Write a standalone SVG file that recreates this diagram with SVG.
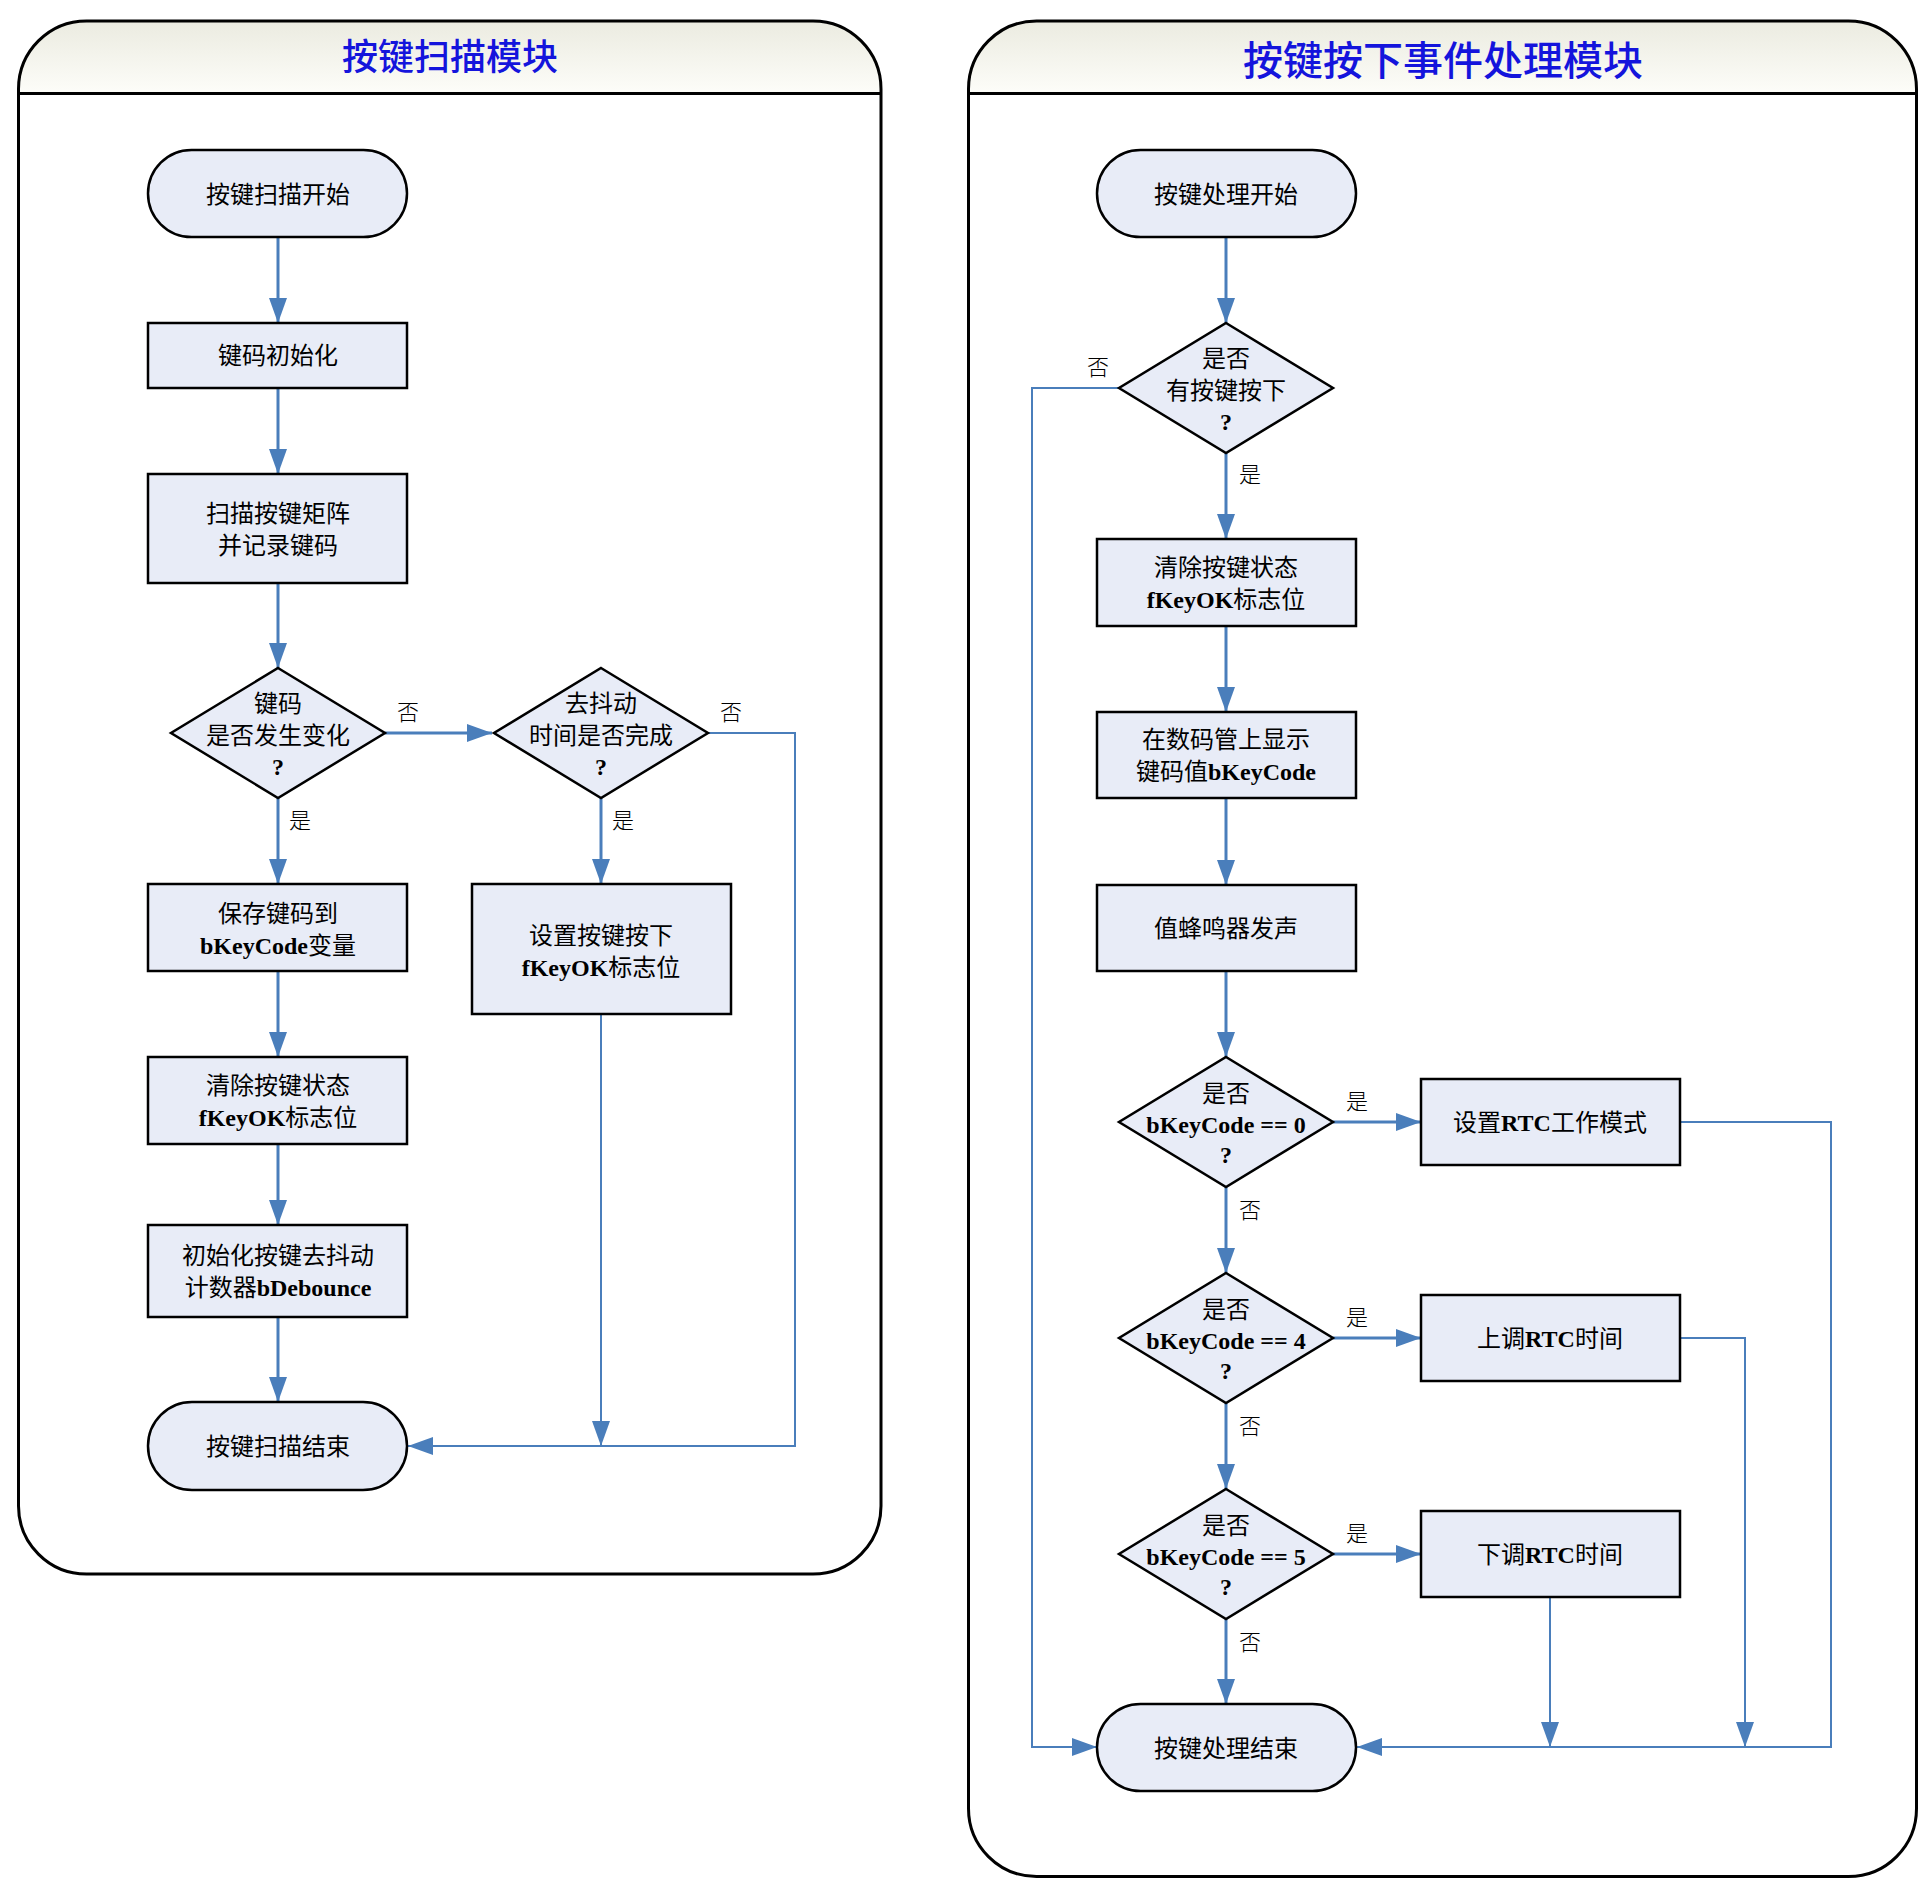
<svg xmlns="http://www.w3.org/2000/svg" width="1932" height="1893" viewBox="0 0 1932 1893">
<style>
.panel{fill:none;stroke:#000;stroke-width:3}
.hdr{fill:url(#hg);stroke:none}
.sep{stroke:#000;stroke-width:3}
.title{font-family:"Noto Sans CJK SC",sans-serif;fill:#1414dc;text-anchor:middle;font-weight:500}
.node{fill:#e8ecf7;stroke:#000;stroke-width:2.5}
.t{font-family:"Noto Sans CJK SC",sans-serif;font-size:24px;fill:#000;text-anchor:middle}
.b{font-family:"Liberation Serif",serif;font-weight:bold}
.lbl{font-family:"Noto Sans CJK SC",sans-serif;font-size:22px;fill:#000;text-anchor:middle;font-weight:300}
.c{fill:none;stroke:#4a7ebb;stroke-width:3}
.c2{fill:none;stroke:#4a7ebb;stroke-width:2}
.ca{marker-end:url(#ar)}
</style>
<defs>
<linearGradient id="hg" x1="0" y1="0" x2="0" y2="1">
<stop offset="0" stop-color="#ebebe0"/>
<stop offset="1" stop-color="#fdfdf9"/>
</linearGradient>
<marker id="ar" viewBox="0 0 25 18" refX="25" refY="9" markerWidth="25" markerHeight="18" markerUnits="userSpaceOnUse" orient="auto">
<path d="M0,0 L25,9 L0,18 Z" fill="#4a7ebb"/>
</marker>
</defs>

<g id="panel-left">
<path class="hdr" d="M18.5,93.5 V89 A68,68 0 0 1 86.5,21 H813 A68,68 0 0 1 881,89 V93.5 Z"/>
<rect class="panel" x="18.5" y="21" width="862.5" height="1553" rx="68" ry="68"/>
<line class="sep" x1="18.5" y1="93.5" x2="881" y2="93.5"/>
<text class="title" x="450" y="70" font-size="36">按键扫描模块</text>
</g>

<g id="panel-right">
<path class="hdr" d="M968.5,93.5 V89 A68,68 0 0 1 1036.5,21 H1848.5 A68,68 0 0 1 1916.5,89 V93.5 Z"/>
<rect class="panel" x="968.5" y="21" width="948" height="1855.5" rx="68" ry="68"/>
<line class="sep" x1="968.5" y1="93.5" x2="1916.5" y2="93.5"/>
<text class="title" x="1443" y="75" font-size="40">按键按下事件处理模块</text>
</g>

<g id="connectors">
<!-- left -->
<path class="c ca" d="M278,237 V323"/>
<path class="c ca" d="M278,388 V474"/>
<path class="c ca" d="M278,583 V668"/>
<path class="c ca" d="M278,798 V884"/>
<path class="c ca" d="M385,733 H492"/>
<path class="c ca" d="M601,798 V884"/>
<path class="c2" d="M708,733 H795 V1446 H420"/>
<path class="c ca" d="M795,1446 H408" style="stroke-width:2"/>
<path class="c2 ca" d="M601,1014 V1446"/>
<path class="c ca" d="M278,971 V1057"/>
<path class="c ca" d="M278,1144 V1225"/>
<path class="c ca" d="M278,1317 V1402"/>
<!-- right -->
<path class="c ca" d="M1226,237 V323"/>
<path class="c2 ca" d="M1119,388 H1032 V1747 H1097"/>
<path class="c ca" d="M1226,453 V539"/>
<path class="c ca" d="M1226,626 V712"/>
<path class="c ca" d="M1226,798 V885"/>
<path class="c ca" d="M1226,971 V1057"/>
<path class="c ca" d="M1333,1122 H1421"/>
<path class="c ca" d="M1226,1187 V1273"/>
<path class="c ca" d="M1333,1338 H1421"/>
<path class="c ca" d="M1226,1403 V1489"/>
<path class="c ca" d="M1333,1554 H1421"/>
<path class="c ca" d="M1226,1619 V1704"/>
<path class="c2 ca" d="M1680,1122 H1831 V1747 H1357"/>
<path class="c2 ca" d="M1680,1338 H1745 V1747"/>
<path class="c2 ca" d="M1550,1597 V1747"/>
<!-- labels -->
<text class="lbl" x="300" y="828">是</text>
<text class="lbl" x="408" y="720">否</text>
<text class="lbl" x="623" y="828">是</text>
<text class="lbl" x="731" y="720">否</text>
<text class="lbl" x="1098" y="375">否</text>
<text class="lbl" x="1250" y="482">是</text>
<text class="lbl" x="1357" y="1109">是</text>
<text class="lbl" x="1250" y="1218">否</text>
<text class="lbl" x="1357" y="1325">是</text>
<text class="lbl" x="1250" y="1434">否</text>
<text class="lbl" x="1357" y="1541">是</text>
<text class="lbl" x="1250" y="1650">否</text>
</g>

<!-- left nodes -->
<g id="n-scan-start">
<rect class="node" x="148" y="150" width="259" height="87" rx="43.5" ry="43.5"/>
<text class="t" x="278" y="203">按键扫描开始</text>
</g>
<g id="n-init">
<rect class="node" x="148" y="323" width="259" height="65"/>
<text class="t" x="278" y="364">键码初始化</text>
</g>
<g id="n-scan-matrix">
<rect class="node" x="148" y="474" width="259" height="109"/>
<text class="t" x="278" y="522">扫描按键矩阵</text>
<text class="t" x="278" y="554">并记录键码</text>
</g>
<g id="n-changed">
<path class="node" d="M278,668 L385,733 L278,798 L171,733 Z"/>
<text class="t" x="278" y="712">键码</text>
<text class="t" x="278" y="744">是否发生变化</text>
<text class="t b" x="278" y="775">?</text>
</g>
<g id="n-debounce">
<path class="node" d="M601,668 L708,733 L601,798 L494,733 Z"/>
<text class="t" x="601" y="712">去抖动</text>
<text class="t" x="601" y="744">时间是否完成</text>
<text class="t b" x="601" y="775">?</text>
</g>
<g id="n-save">
<rect class="node" x="148" y="884" width="259" height="87"/>
<text class="t" x="278" y="922">保存键码到</text>
<text class="t" x="278" y="954"><tspan class="b">bKeyCode</tspan>变量</text>
</g>
<g id="n-set-ok">
<rect class="node" x="472" y="884" width="259" height="130"/>
<text class="t" x="601" y="944">设置按键按下</text>
<text class="t" x="601" y="976"><tspan class="b">fKeyOK</tspan>标志位</text>
</g>
<g id="n-clear-left">
<rect class="node" x="148" y="1057" width="259" height="87"/>
<text class="t" x="278" y="1094">清除按键状态</text>
<text class="t" x="278" y="1126"><tspan class="b">fKeyOK</tspan>标志位</text>
</g>
<g id="n-init-debounce">
<rect class="node" x="148" y="1225" width="259" height="92"/>
<text class="t" x="278" y="1264">初始化按键去抖动</text>
<text class="t" x="278" y="1296">计数器<tspan class="b">bDebounce</tspan></text>
</g>
<g id="n-scan-end">
<rect class="node" x="148" y="1402" width="259" height="88" rx="44" ry="44"/>
<text class="t" x="278" y="1455">按键扫描结束</text>
</g>

<!-- right nodes -->
<g id="n-proc-start">
<rect class="node" x="1097" y="150" width="259" height="87" rx="43.5" ry="43.5"/>
<text class="t" x="1226" y="203">按键处理开始</text>
</g>
<g id="n-pressed">
<path class="node" d="M1226,323 L1333,388 L1226,453 L1119,388 Z"/>
<text class="t" x="1226" y="367">是否</text>
<text class="t" x="1226" y="399">有按键按下</text>
<text class="t b" x="1226" y="430">?</text>
</g>
<g id="n-clear-right">
<rect class="node" x="1097" y="539" width="259" height="87"/>
<text class="t" x="1226" y="576">清除按键状态</text>
<text class="t" x="1226" y="608"><tspan class="b">fKeyOK</tspan>标志位</text>
</g>
<g id="n-display">
<rect class="node" x="1097" y="712" width="259" height="86"/>
<text class="t" x="1226" y="748">在数码管上显示</text>
<text class="t" x="1226" y="780">键码值<tspan class="b">bKeyCode</tspan></text>
</g>
<g id="n-beep">
<rect class="node" x="1097" y="885" width="259" height="86"/>
<text class="t" x="1226" y="937">值蜂鸣器发声</text>
</g>
<g id="n-is0">
<path class="node" d="M1226,1057 L1333,1122 L1226,1187 L1119,1122 Z"/>
<text class="t" x="1226" y="1102">是否</text>
<text class="t b" x="1226" y="1133">bKeyCode == 0</text>
<text class="t b" x="1226" y="1163">?</text>
</g>
<g id="n-is4">
<path class="node" d="M1226,1273 L1333,1338 L1226,1403 L1119,1338 Z"/>
<text class="t" x="1226" y="1318">是否</text>
<text class="t b" x="1226" y="1349">bKeyCode == 4</text>
<text class="t b" x="1226" y="1379">?</text>
</g>
<g id="n-is5">
<path class="node" d="M1226,1489 L1333,1554 L1226,1619 L1119,1554 Z"/>
<text class="t" x="1226" y="1534">是否</text>
<text class="t b" x="1226" y="1565">bKeyCode == 5</text>
<text class="t b" x="1226" y="1595">?</text>
</g>
<g id="n-rtc-mode">
<rect class="node" x="1421" y="1079" width="259" height="86"/>
<text class="t" x="1550" y="1131">设置<tspan class="b">RTC</tspan>工作模式</text>
</g>
<g id="n-rtc-up">
<rect class="node" x="1421" y="1295" width="259" height="86"/>
<text class="t" x="1550" y="1347">上调<tspan class="b">RTC</tspan>时间</text>
</g>
<g id="n-rtc-down">
<rect class="node" x="1421" y="1511" width="259" height="86"/>
<text class="t" x="1550" y="1563">下调<tspan class="b">RTC</tspan>时间</text>
</g>
<g id="n-proc-end">
<rect class="node" x="1097" y="1704" width="259" height="87" rx="43.5" ry="43.5"/>
<text class="t" x="1226" y="1757">按键处理结束</text>
</g>
</svg>
